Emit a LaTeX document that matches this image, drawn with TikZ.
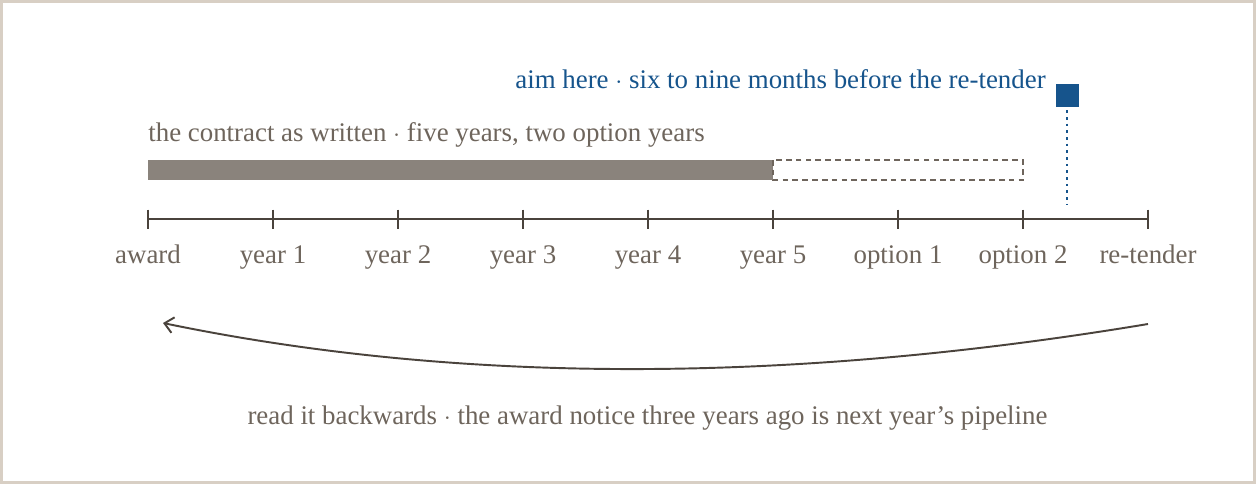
\documentclass[tikz,border=0pt]{standalone}
\usepackage{fontspec}
\setmainfont{Liberation Serif}
\usetikzlibrary{arrows.meta}
\definecolor{framecol}{HTML}{D8CFC4}
\definecolor{inkcol}{HTML}{4A433C}
\definecolor{textcol}{HTML}{6E655C}
\definecolor{barcol}{HTML}{8A837C}
\definecolor{aimcol}{HTML}{16548C}
\tikzset{
  lbl/.style={font=\fontsize{15.3}{18}\selectfont, text=textcol, inner sep=0pt},
  axisline/.style={draw=inkcol, line width=1.1pt},
}
\begin{document}
\begin{tikzpicture}[x=0.02cm, y=-0.02cm]
  \useasboundingbox (0,0) rectangle (1256,484);
  % frame
  \fill[white] (0,0) rectangle (1256,484);
  \draw[framecol, line width=1.7pt] (1.5,1.5) rectangle (1254.5,482.5);

  % timeline ticks and labels
  \foreach \lab [count=\i from 0] in {award, year 1, year 2, year 3, year 4, year 5, option 1, option 2, re-tender} {
    \coordinate (t\i) at ({148+125*\i},219);  % tick position
    \draw[axisline] (t\i) +(0,-9.5) -- +(0,10);  % tick
    \node[lbl, anchor=base] (l\i) at ({148+125*\i},263) {\lab};  % tick label
  }
  \draw[axisline] (t0) -- (t8);  % axis

  % contract bar
  \node[lbl, anchor=base west] (contract) at (148,141) {the contract as written $\cdot$ five years, two option years};
  \fill[barcol] (148,160) rectangle (773,180);  % five years
  \draw[textcol, line width=1pt, dash pattern=on 3.2pt off 2.4pt] (773,160) rectangle (1023,180);  % option years

  % aim marker
  \node[fill=aimcol, minimum size=0.46cm, inner sep=0pt] (aim) at (1067,95.5) {};
  \coordinate (aimfoot) at (1067,205);
  \draw[aimcol, line width=1pt, dash pattern=on 1.5pt off 2.3pt] (aim.south) ++(0,3) -- (aimfoot);  % dotted drop
  \node[lbl, text=aimcol, anchor=base east] (aimtext) at (1046,88) {aim here $\cdot$ six to nine months before the re-tender};

  % read it backwards
  \coordinate (arcstart) at (1148,324);
  \coordinate (arcend) at (163,323);
  \draw[inkcol, line width=1.1pt, -{Straight Barb[length=5pt, width=9pt]}]
    (arcstart) .. controls (785.7,384.3) and (457.3,384) .. (arcend);
  \node[lbl, anchor=base] (backwards) at (647.5,424) {read it backwards $\cdot$ the award notice three years ago is next year’s pipeline};
\end{tikzpicture}
\end{document}
